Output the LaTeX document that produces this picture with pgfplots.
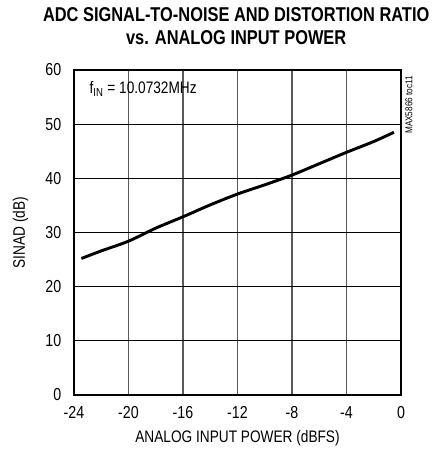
\documentclass[border=0pt]{standalone}
\usepackage{pgfplots}
\pgfplotsset{compat=1.18}
\usepackage{fontspec}
\setmainfont{Liberation Sans}[FakeStretch=0.82]
\begin{document}
\begin{tikzpicture}
\begin{axis}[
  scale only axis,
  width=245.25pt, height=243.75pt,
  xmin=-24, xmax=0, ymin=0, ymax=60,
  xtick={-24,-20,...,0}, ytick={0,10,...,60},
  grid=major,
  major grid style={black, line width=0.7pt},
  x grid style={gray!70!black, line width=0.8pt},
  tick style={draw=none},
  axis line style={line width=2pt},
  /pgf/number format/assume math mode=true,
  ticklabel style={font=\fontsize{13}{15}\selectfont},
  xticklabel style={yshift=-5pt},
  yticklabel style={xshift=-6pt},
  xlabel={ANALOG INPUT POWER (dBFS)},
  ylabel={SINAD (dB)},
  label style={font=\fontsize{12.5}{14}\selectfont},
  xlabel style={yshift=-2pt},
  ylabel style={yshift=6pt},
  clip=false,
]
\addplot[black, line width=2.2pt, smooth, tension=0.5] coordinates {
(-23.46,25.2) (-22,26.6) (-20,28.4) (-18,30.8) (-16,32.9) (-14,35.1) (-12,37.1) (-10,38.8) (-8,40.6) (-6,42.7) (-4,44.8) (-2,46.8) (-0.52,48.5)
};
\node[anchor=west, font=\fontsize{12.5}{14}\selectfont] at (axis cs:-23.2,56.5) {f\textsubscript{IN} = 10.0732MHz};
\node[rotate=90, anchor=east, font=\fontsize{7.5}{9}\selectfont] at ([shift={(6pt,-1pt)}]current axis.north east) {MAX5866 toc11};
\end{axis}
\node[align=center, font=\bfseries\fontsize{15}{17.5}\selectfont] at ([shift={(-1pt,33pt)}]current axis.north) {ADC SIGNAL-TO-NOISE AND DISTORTION RATIO\\vs. ANALOG INPUT POWER};
\pgfresetboundingbox
\path ([shift={(-55.5pt,-42.75pt)}]current axis.south west) rectangle ([shift={(22.5pt,52.5pt)}]current axis.north east);
\end{tikzpicture}
\end{document}
